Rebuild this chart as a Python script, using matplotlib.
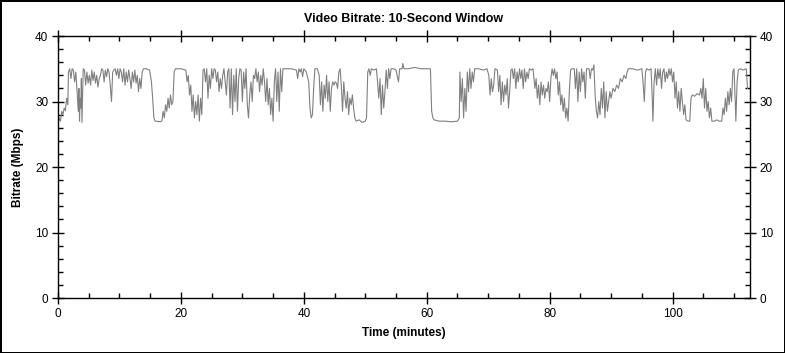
import matplotlib
matplotlib.use("Agg")
from matplotlib import pyplot as plt
from matplotlib.ticker import MultipleLocator

plt.rcParams['font.family'] = ['Liberation Sans', 'DejaVu Sans']

# Bitrate samples (minutes, Mbps)
minutes = [
    0.0, 0.2, 0.4, 0.6, 0.8, 1.0, 1.2, 1.4, 1.6, 1.7, 1.9, 2.1, 2.3, 2.5, 2.7, 2.9, 3.1, 3.3, 3.4, 3.5,
    3.6, 3.7, 3.8, 3.9, 4.0, 4.1, 4.3, 4.5, 4.7, 4.9, 5.1, 5.3, 5.5, 5.7, 5.9, 6.1, 6.3, 6.5, 6.7, 6.9,
    7.1, 7.3, 7.5, 7.7, 7.9, 8.1, 8.3, 8.5, 8.7, 8.9, 9.1, 9.3, 9.5, 9.7, 9.9, 10.1, 10.3, 10.5, 10.7, 10.9,
    11.1, 11.3, 11.5, 11.7, 11.9, 12.1, 12.3, 12.5, 12.7, 12.9, 13.1, 13.3, 13.5, 13.7, 13.9, 14.3, 14.9, 15.2, 15.4, 15.6,
    15.8, 16.1, 16.5, 16.9, 17.1, 17.3, 17.5, 17.7, 17.9, 18.1, 18.3, 18.5, 18.7, 18.9, 19.1, 20.0, 20.8, 21.0, 21.2, 21.4,
    21.6, 21.8, 22.0, 22.2, 22.4, 22.6, 22.8, 23.0, 23.2, 23.4, 23.6, 23.8, 24.0, 24.2, 24.4, 24.6, 24.8, 25.0, 25.2, 25.4,
    25.6, 25.8, 26.0, 26.2, 26.4, 26.6, 26.8, 27.0, 27.2, 27.4, 27.6, 27.8, 28.0, 28.2, 28.4, 28.6, 28.8, 29.0, 29.2, 29.4,
    29.6, 29.8, 30.0, 30.2, 30.4, 30.6, 30.8, 31.0, 31.2, 31.4, 31.6, 31.8, 32.0, 32.2, 32.4, 32.6, 32.8, 33.0, 33.2, 33.4,
    33.6, 33.8, 34.0, 34.2, 34.4, 34.6, 34.8, 35.0, 35.2, 35.4, 35.6, 35.8, 36.0, 36.2, 36.4, 36.6, 37.0, 38.0, 38.8, 39.0,
    39.2, 39.4, 39.6, 39.8, 40.0, 40.4, 40.8, 41.0, 41.2, 41.4, 41.6, 41.8, 42.2, 42.5, 42.7, 42.9, 43.1, 43.3, 43.5, 43.7,
    43.9, 44.1, 44.3, 44.5, 44.7, 44.9, 45.1, 45.3, 45.5, 45.7, 45.9, 46.1, 46.3, 46.5, 46.7, 46.9, 47.1, 47.3, 47.5, 47.7,
    47.9, 48.1, 48.3, 48.5, 49.0, 49.5, 50.0, 50.2, 50.4, 50.6, 50.8, 51.0, 51.4, 51.8, 52.0, 52.2, 52.4, 52.6, 52.8, 53.0,
    53.2, 53.4, 53.6, 53.8, 54.0, 54.2, 54.6, 55.0, 55.4, 55.6, 56.0, 56.1, 56.3, 57.0, 58.0, 59.0, 60.0, 60.6, 60.8, 61.0,
    61.2, 62.0, 63.0, 64.0, 65.0, 65.3, 65.4, 65.6, 65.8, 66.0, 66.2, 66.4, 66.6, 66.8, 67.0, 67.2, 67.4, 67.6, 67.8, 68.5,
    69.2, 69.8, 70.1, 70.3, 70.5, 70.7, 70.9, 71.1, 71.5, 71.7, 71.9, 72.1, 72.3, 72.5, 72.7, 72.9, 73.1, 73.3, 73.5, 73.7,
    73.9, 74.1, 74.3, 74.5, 74.7, 74.9, 75.1, 75.3, 75.5, 75.7, 75.9, 76.1, 76.3, 76.5, 76.7, 77.0, 77.3, 77.6, 77.8, 78.0,
    78.2, 78.4, 78.6, 78.8, 79.0, 79.2, 79.4, 79.6, 79.8, 80.0, 80.2, 80.4, 80.6, 80.8, 81.0, 81.2, 81.4, 81.6, 81.8, 82.0,
    82.2, 82.4, 82.6, 82.8, 83.0, 83.2, 83.4, 83.6, 84.0, 84.2, 84.4, 84.6, 84.8, 85.0, 85.2, 85.4, 85.6, 85.8, 86.0, 86.4,
    86.6, 86.8, 87.0, 87.2, 87.4, 87.6, 87.8, 88.0, 88.2, 88.4, 88.6, 88.8, 89.0, 89.2, 89.4, 89.6, 89.8, 90.0, 90.3, 90.6,
    90.9, 91.2, 91.5, 91.8, 92.1, 92.4, 92.6, 92.8, 93.5, 94.3, 95.0, 95.2, 95.4, 95.6, 95.8, 96.2, 96.5, 96.7, 96.8, 97.0,
    97.2, 97.4, 97.6, 97.8, 98.0, 98.2, 98.4, 98.6, 98.8, 99.0, 99.2, 99.4, 99.6, 99.8, 100.0, 100.2, 100.4, 100.6, 100.8, 101.0,
    101.2, 101.4, 101.6, 101.8, 102.0, 102.2, 102.5, 102.8, 103.0, 103.2, 103.6, 104.0, 104.4, 104.6, 104.8, 105.0, 105.2, 105.4, 105.6, 105.8,
    106.0, 106.2, 106.4, 106.8, 107.2, 107.6, 108.0, 108.2, 108.4, 108.6, 108.8, 109.0, 109.2, 109.4, 109.6, 109.8, 110.0, 110.2, 110.3, 110.5,
    110.7, 111.0, 111.5, 112.0, 112.2,
]
mbps = [
    26.5, 27.5, 27.0, 28.5, 28.0, 29.0, 28.6, 30.5, 29.5, 34.5, 35.0, 33.5, 35.0, 34.8, 33.0, 34.5, 31.5, 28.5, 32.0, 27.0,
    30.5, 29.0, 33.5, 26.8, 31.0, 35.0, 34.8, 32.5, 34.5, 32.8, 34.0, 32.5, 34.8, 33.2, 34.5, 32.8, 34.0, 32.2, 33.5, 34.0,
    35.0, 34.8, 33.0, 34.8, 33.8, 35.0, 34.5, 32.5, 30.0, 34.5, 34.8, 35.0, 34.0, 35.0, 33.5, 35.0, 34.5, 33.0, 35.0, 32.5,
    34.5, 33.0, 34.8, 33.5, 32.0, 34.5, 33.0, 34.8, 32.8, 34.0, 31.5, 33.5, 32.0, 34.5, 35.0, 35.0, 34.8, 33.0, 30.5, 27.5,
    27.0, 27.0, 26.9, 27.0, 28.5, 27.5, 29.5, 28.5, 30.5, 29.0, 31.0, 29.5, 30.0, 34.5, 35.0, 35.0, 34.8, 33.0, 34.0, 31.0,
    32.5, 28.5, 31.0, 27.5, 30.0, 28.0, 31.0, 27.0, 30.5, 28.0, 34.8, 35.0, 33.0, 35.0, 30.5, 34.0, 32.0, 35.0, 33.5, 35.0,
    34.8, 33.0, 34.5, 31.5, 33.5, 32.0, 34.0, 35.0, 33.0, 31.0, 34.5, 35.0, 29.0, 35.0, 28.0, 34.0, 30.0, 35.0, 28.5, 33.5,
    35.0, 34.8, 30.0, 34.5, 32.0, 35.0, 29.5, 27.5, 31.0, 33.0, 30.0, 34.0, 33.5, 35.0, 33.0, 34.5, 31.5, 34.0, 32.5, 35.0,
    33.0, 30.0, 33.5, 29.5, 32.0, 28.0, 30.5, 27.0, 33.0, 35.0, 30.0, 34.5, 28.5, 35.0, 31.5, 35.0, 35.0, 35.0, 34.8, 33.5,
    35.0, 34.5, 35.0, 33.8, 35.0, 34.5, 33.0, 29.0, 27.5, 28.0, 32.0, 35.0, 35.0, 34.0, 29.5, 33.0, 28.5, 32.5, 30.5, 34.0,
    30.0, 33.0, 28.5, 32.0, 33.0, 32.5, 33.0, 32.8, 32.0, 34.5, 35.0, 32.5, 28.5, 33.0, 30.5, 29.0, 31.5, 28.0, 30.5, 29.5,
    31.0, 29.0, 27.5, 27.0, 27.2, 26.8, 27.0, 27.5, 34.5, 35.0, 34.0, 35.0, 34.8, 35.0, 33.0, 30.5, 33.5, 28.0, 32.5, 29.0,
    31.5, 34.8, 32.0, 35.0, 33.5, 35.0, 35.0, 34.8, 33.0, 35.0, 35.0, 35.8, 35.0, 35.0, 35.2, 35.0, 35.0, 35.0, 28.5, 27.5,
    27.2, 27.0, 27.0, 26.9, 27.0, 27.5, 34.5, 30.0, 33.5, 27.5, 32.0, 28.5, 34.5, 31.5, 35.0, 32.0, 34.5, 33.0, 35.0, 35.0,
    34.8, 35.0, 34.0, 31.0, 33.5, 31.5, 32.5, 35.0, 34.8, 31.5, 34.0, 29.5, 33.0, 30.0, 32.5, 31.0, 33.5, 29.0, 31.5, 34.8,
    35.0, 33.5, 35.0, 32.0, 34.5, 33.0, 35.0, 33.5, 34.8, 32.0, 35.0, 33.0, 34.5, 33.5, 35.0, 34.8, 35.0, 32.0, 33.5, 30.5,
    32.5, 29.5, 33.0, 31.0, 32.5, 30.5, 32.0, 31.5, 33.0, 30.0, 33.5, 35.0, 34.0, 35.0, 33.5, 34.5, 31.0, 33.0, 29.5, 31.0,
    28.5, 30.5, 27.5, 29.0, 27.0, 31.5, 34.8, 35.0, 35.0, 32.0, 35.0, 30.0, 34.5, 31.5, 35.0, 33.0, 34.5, 30.5, 35.0, 35.0,
    33.5, 35.0, 34.8, 35.6, 31.0, 28.5, 27.5, 30.0, 28.0, 32.0, 29.0, 33.0, 27.5, 31.5, 28.5, 30.0, 31.5, 30.5, 32.0, 31.5,
    32.5, 32.0, 33.5, 33.0, 34.0, 33.5, 34.5, 35.0, 35.0, 34.8, 35.0, 33.0, 30.0, 34.5, 35.0, 34.8, 35.0, 30.5, 27.0, 33.0,
    35.0, 32.5, 35.0, 33.5, 35.0, 32.0, 34.5, 35.0, 33.0, 34.5, 33.5, 35.0, 34.0, 35.0, 33.0, 34.5, 30.5, 33.0, 29.0, 31.5,
    28.5, 32.0, 30.0, 28.0, 29.5, 27.2, 27.0, 27.0, 30.5, 31.0, 30.8, 31.2, 31.0, 32.0, 30.5, 33.5, 29.0, 32.0, 28.5, 30.0,
    27.5, 29.0, 27.0, 27.0, 27.2, 27.0, 27.0, 29.0, 28.0, 30.5, 28.5, 31.5, 29.5, 32.0, 30.0, 34.5, 35.0, 30.0, 27.0, 33.0,
    34.8, 35.0, 34.8, 35.0, 32.0,
]

fig = plt.figure(figsize=(7.85, 3.53), dpi=100)
fig.patch.set_edgecolor("black")
fig.patch.set_linewidth(2)
ax = fig.add_axes([0.0739, 0.1558, 0.8815, 0.7422])

ax.plot(minutes, mbps, color="#808080", linewidth=0.8)

ax.set_xlim(0, 112.6)
ax.set_ylim(0, 40)
ax.xaxis.set_major_locator(MultipleLocator(20))
ax.xaxis.set_minor_locator(MultipleLocator(5))
ax.yaxis.set_major_locator(MultipleLocator(10))
ax.yaxis.set_minor_locator(MultipleLocator(2))
ax.tick_params(which="major", direction="inout", length=8, width=1,
               top=True, right=True, labelright=True, labelsize=8.5, pad=3)
ax.tick_params(which="minor", direction="in", length=3.5, width=1,
               top=True, right=True)
for s in ax.spines.values():
    s.set_linewidth(1)

ax.set_title("Video Bitrate: 10-Second Window", fontsize=9, fontweight="bold", pad=10)
ax.set_xlabel("Time (minutes)", fontsize=8.5, fontweight="bold", labelpad=5)
ax.set_ylabel("Bitrate (Mbps)", fontsize=8.5, fontweight="bold", labelpad=8)

fig.savefig("out.png", dpi=100, edgecolor=fig.get_edgecolor())
